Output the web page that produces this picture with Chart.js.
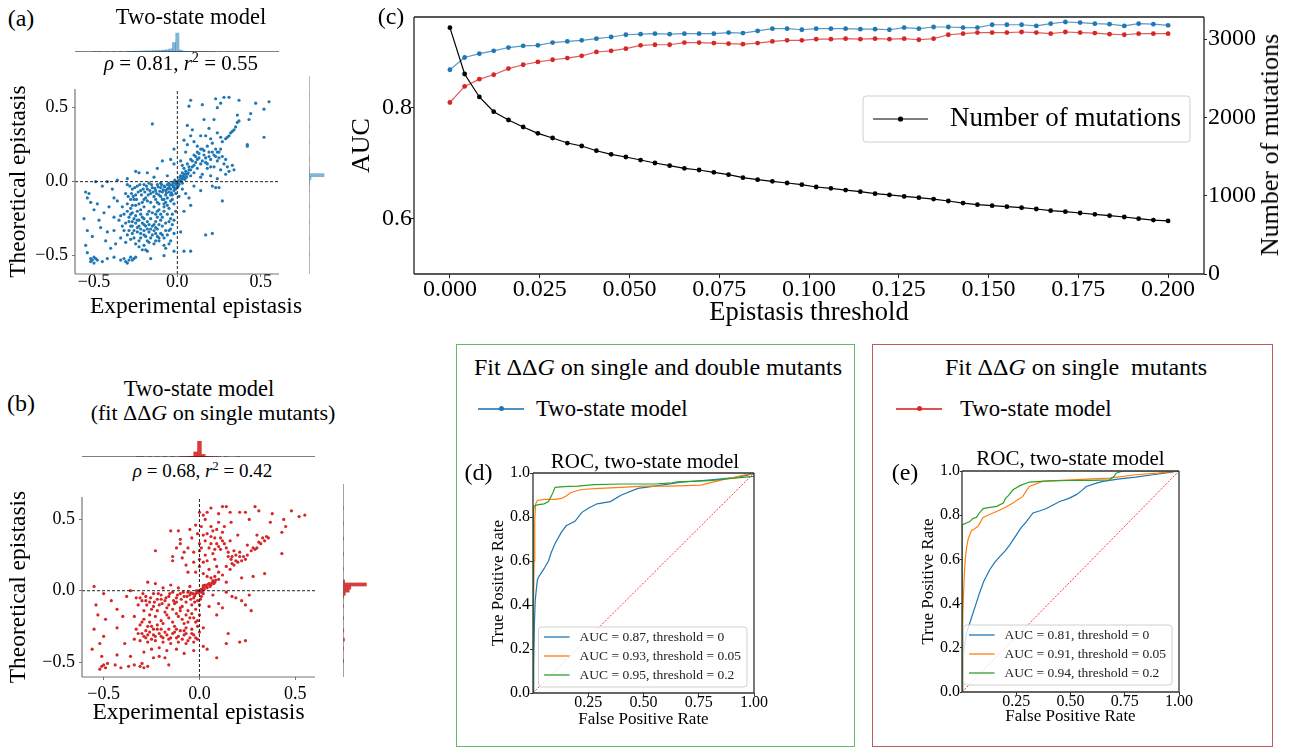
<!DOCTYPE html>
<html>
<head>
<meta charset="utf-8">
<title>Two-state model epistasis</title>
<script src="https://cdn.jsdelivr.net/npm/chart.js@4.4.1/dist/chart.umd.min.js"></script>
<style>
  body { margin: 0; background: #fff; }
  #fig { position: relative; width: 1298px; height: 749px; overflow: hidden; font-family: "Liberation Serif", "Times New Roman", serif; color: #000; }
  #fig canvas { position: absolute; }
  .t { position: absolute; white-space: nowrap; line-height: 1; transform: translate(-50%, -50%); }
  .tl { position: absolute; white-space: nowrap; line-height: 1; transform: translate(0, -50%); }
  .rot { transform: translate(-50%, -50%) rotate(-90deg); }
  .box { position: absolute; box-sizing: border-box; }
  .sample { position: absolute; height: 1.5px; }
  .dot { position: absolute; width: 5px; height: 5px; border-radius: 50%; }
  sup { font-size: 0.68em; line-height: 0; vertical-align: 0.5em; }
</style>
</head>
<body>
<div id="fig">
  <div class="box" style="left:456px;top:344px;width:399px;height:403px;border:1.5px solid #64bb64;"></div>
  <div class="box" style="left:872px;top:344px;width:401px;height:403px;border:1.5px solid #c05a5a;"></div>

  <canvas id="histTopA" width="204" height="24" style="left:75px;top:28px"></canvas>
  <canvas id="scatterA" width="290" height="244" style="left:0px;top:76px"></canvas>
  <canvas id="histRightA" width="26" height="198" style="left:309px;top:76px"></canvas>
  <canvas id="histTopB" width="233" height="24" style="left:82px;top:433px"></canvas>
  <canvas id="scatterB" width="330" height="243" style="left:0px;top:484px"></canvas>
  <canvas id="histRightB" width="30" height="193" style="left:343px;top:484px"></canvas>
  <canvas id="chartC" width="948" height="335" style="left:350px;top:0px"></canvas>
  <canvas id="rocD" width="370" height="298" style="left:460px;top:440px"></canvas>
  <canvas id="rocE" width="363" height="299" style="left:889px;top:438px"></canvas>

  <div class="t" style="left:21px;top:18px;font-size:24px">(a)</div>
  <div class="t" style="left:191px;top:16.5px;font-size:22.5px">Two-state model</div>
  <div class="t" style="left:181px;top:63px;font-size:21px"><i>ρ</i> = 0.81, <i>r</i><sup>2</sup> = 0.55</div>
  <div class="t" style="left:196px;top:305.5px;font-size:23.5px">Experimental epistasis</div>

  <div class="t" style="left:21px;top:402.5px;font-size:24px">(b)</div>
  <div class="t" style="left:199px;top:389px;font-size:22.5px">Two-state model</div>
  <div class="t" style="left:213px;top:413px;font-size:22px">(fit ΔΔ<i>G</i> on single mutants)</div>
  <div class="t" style="left:202.5px;top:470px;font-size:19px"><i>ρ</i> = 0.68, <i>r</i><sup>2</sup> = 0.42</div>

  <div class="t" style="left:391px;top:16px;font-size:24px">(c)</div>
  <div class="t rot" style="left:1270px;top:145px;font-size:26px">Number of mutations</div>

  <div class="t" style="left:658px;top:366.5px;font-size:24px">Fit ΔΔ<i>G</i> on single and double mutants</div>
  <div class="sample" style="left:478px;top:408px;width:46px;background:rgba(31,119,180,0.8)"></div>
  <div class="dot" style="left:498.5px;top:406.3px;background:#1f77b4"></div>
  <div class="tl" style="left:536px;top:409px;font-size:22.7px">Two-state model</div>
  <div class="t" style="left:478.5px;top:472px;font-size:24px">(d)</div>

  <div class="t" style="left:1076px;top:366.5px;font-size:24px">Fit ΔΔ<i>G</i> on single&nbsp; mutants</div>
  <div class="sample" style="left:896px;top:408px;width:46px;background:rgba(214,39,40,0.8)"></div>
  <div class="dot" style="left:916.5px;top:406.3px;background:#d62728"></div>
  <div class="tl" style="left:960px;top:409px;font-size:22.7px">Two-state model</div>
  <div class="t" style="left:905px;top:472px;font-size:24px">(e)</div>
</div>

<script>
// panel (c): epistasis threshold sweep
const thresholds = [0, 0.0041, 0.0082, 0.0122, 0.0163, 0.0204, 0.0245, 0.0286, 0.0327, 0.0367,
  0.0408, 0.0449, 0.0490, 0.0531, 0.0571, 0.0612, 0.0653, 0.0694, 0.0735, 0.0776,
  0.0816, 0.0857, 0.0898, 0.0939, 0.0980, 0.1020, 0.1061, 0.1102, 0.1143, 0.1184,
  0.1224, 0.1265, 0.1306, 0.1347, 0.1388, 0.1429, 0.1469, 0.1510, 0.1551, 0.1592,
  0.1633, 0.1673, 0.1714, 0.1755, 0.1796, 0.1837, 0.1878, 0.1918, 0.1959, 0.2000];
const aucSingleDouble = [0.868, 0.890, 0.897, 0.902, 0.908, 0.911, 0.912, 0.917, 0.919, 0.921,
  0.924, 0.927, 0.931, 0.932, 0.933, 0.932, 0.933, 0.933, 0.933, 0.935,
  0.934, 0.938, 0.942, 0.942, 0.940, 0.942, 0.942, 0.942, 0.941, 0.941,
  0.940, 0.944, 0.942, 0.945, 0.945, 0.944, 0.944, 0.949, 0.949, 0.949,
  0.947, 0.951, 0.954, 0.953, 0.951, 0.950, 0.947, 0.951, 0.950, 0.948];
const aucSingle = [0.809, 0.838, 0.851, 0.859, 0.870, 0.877, 0.882, 0.886, 0.889, 0.893,
  0.900, 0.902, 0.906, 0.912, 0.913, 0.913, 0.917, 0.917, 0.916, 0.915,
  0.914, 0.916, 0.919, 0.921, 0.921, 0.923, 0.923, 0.924, 0.923, 0.924,
  0.923, 0.924, 0.922, 0.924, 0.931, 0.933, 0.935, 0.935, 0.935, 0.936,
  0.935, 0.933, 0.936, 0.935, 0.934, 0.932, 0.931, 0.933, 0.933, 0.933];
const mutationCount = [3145, 2553, 2260, 2072, 1966, 1877, 1796, 1736, 1672, 1634,
  1574, 1528, 1494, 1455, 1417, 1383, 1349, 1328, 1298, 1268,
  1230, 1204, 1183, 1162, 1140, 1111, 1094, 1072, 1051, 1026,
  1009, 991, 974, 957, 932, 906, 885, 872, 860, 847,
  830, 809, 796, 779, 762, 745, 728, 706, 689, 677];
const thresholdTicks = [0, 0.025, 0.05, 0.075, 0.1, 0.125, 0.15, 0.175, 0.2];
const aucTicks = [0.6, 0.8];
const countTicks = [0, 1000, 2000, 3000];

// panels (d), (e): ROC curves as [FPR, TPR]
const rocLabelsD = ['AUC = 0.87, threshold = 0', 'AUC = 0.93, threshold = 0.05', 'AUC = 0.95, threshold = 0.2'];
const rocLabelsE = ['AUC = 0.81, threshold = 0', 'AUC = 0.91, threshold = 0.05', 'AUC = 0.94, threshold = 0.2'];
const rocD0 = [[0, 0], [0.003, 0.12], [0.006, 0.3], [0.01, 0.42], [0.015, 0.47], [0.02, 0.515], [0.03, 0.535],
  [0.05, 0.565], [0.07, 0.6], [0.083, 0.64], [0.1, 0.68], [0.128, 0.73], [0.15, 0.76], [0.19, 0.78],
  [0.22, 0.82], [0.25, 0.84], [0.29, 0.86], [0.35, 0.87], [0.4, 0.9], [0.475, 0.93], [0.55, 0.94],
  [0.67, 0.958], [0.82, 0.97], [0.92, 0.98], [0.97, 0.99], [1, 1]];
const rocD005 = [[0, 0], [0.002, 0.4], [0.005, 0.6], [0.008, 0.79], [0.012, 0.86], [0.02, 0.875], [0.05, 0.88],
  [0.1, 0.88], [0.13, 0.885], [0.15, 0.895], [0.17, 0.91], [0.19, 0.917], [0.22, 0.925], [0.3, 0.93],
  [0.4, 0.935], [0.5, 0.94], [0.62, 0.94], [0.76, 0.945], [0.8, 0.955], [0.86, 0.97], [0.93, 0.985], [1, 1]];
const rocD02 = [[0, 0], [0.002, 0.83], [0.005, 0.85], [0.02, 0.855], [0.05, 0.86], [0.07, 0.87], [0.08, 0.89],
  [0.09, 0.91], [0.1, 0.935], [0.14, 0.938], [0.2, 0.94], [0.28, 0.947], [0.4, 0.95], [0.55, 0.95],
  [0.63, 0.955], [0.65, 0.96], [0.8, 0.965], [0.9, 0.975], [0.95, 0.98], [1, 0.985], [1, 1]];
const rocE0 = [[0, 0], [0.003, 0.07], [0.005, 0.14], [0.01, 0.2], [0.02, 0.265], [0.035, 0.31], [0.05, 0.355],
  [0.065, 0.4], [0.08, 0.446], [0.1, 0.5], [0.127, 0.552], [0.15, 0.585], [0.174, 0.613], [0.2, 0.64],
  [0.22, 0.666], [0.25, 0.71], [0.27, 0.74], [0.296, 0.77], [0.327, 0.81], [0.36, 0.82], [0.389, 0.83],
  [0.45, 0.862], [0.49, 0.875], [0.527, 0.893], [0.55, 0.91], [0.573, 0.93], [0.62, 0.945], [0.65, 0.953],
  [0.727, 0.964], [0.8, 0.972], [0.88, 0.983], [0.95, 0.993], [1, 1]];
const rocE005 = [[0, 0], [0.003, 0.3], [0.005, 0.386], [0.01, 0.52], [0.015, 0.6], [0.022, 0.66], [0.028, 0.69],
  [0.043, 0.73], [0.06, 0.74], [0.074, 0.75], [0.097, 0.79], [0.12, 0.8], [0.143, 0.81], [0.19, 0.83],
  [0.235, 0.855], [0.28, 0.885], [0.31, 0.93], [0.37, 0.953], [0.5, 0.96], [0.68, 0.968], [0.8, 0.983],
  [0.9, 0.99], [1, 1]];
const rocE02 = [[0, 0], [0.001, 0.756], [0.02, 0.765], [0.035, 0.77], [0.05, 0.785], [0.066, 0.79], [0.08, 0.81],
  [0.097, 0.83], [0.13, 0.835], [0.16, 0.84], [0.19, 0.855], [0.2, 0.875], [0.215, 0.89], [0.235, 0.915],
  [0.27, 0.935], [0.31, 0.95], [0.4, 0.955], [0.5, 0.957], [0.6, 0.958], [0.68, 0.96], [0.7, 0.975],
  [0.71, 0.99], [0.74, 1], [1, 1]];
const rocXTicks = [0.25, 0.5, 0.75, 1];
const rocYTicks = [0, 0.2, 0.4, 0.6, 0.8, 1];

// panels (a), (b): [experimental, theoretical] epistasis
const epiTicks = [-0.5, 0, 0.5];
const scatterA = [
  [-0.01, -0.01], [0, 0], [0.01, 0.01], [-0.02, -0.03], [-0.03, -0.02], [-0.04, -0.05], [-0.05, -0.04], [-0.06, -0.02],
  [-0.02, -0.06], [-0.07, -0.06], [-0.08, -0.03], [-0.09, -0.07], [-0.1, -0.04], [-0.11, -0.09], [-0.12, -0.02], [-0.13, -0.06],
  [-0.04, -0.09], [-0.06, -0.11], [-0.03, -0.12], [-0.01, -0.08], [0, -0.04], [0.01, -0.02], [0.02, 0], [0.03, 0.02],
  [0.02, 0.04], [0.04, 0.03], [0.05, 0.05], [-0.015, 0.01], [-0.05, -0.01], [-0.07, -0.09], [-0.09, -0.12], [-0.14, -0.1],
  [-0.15, -0.04], [-0.16, -0.08], [-0.12, -0.14], [-0.08, -0.15], [-0.02, -0.15], [0.01, -0.1], [-0.17, -0.01], [-0.18, -0.05],
  [-0.2, -0.02], [-0.22, -0.06], [-0.19, -0.11], [-0.24, -0.03], [-0.25, -0.09], [-0.27, -0.05], [-0.28, -0.12], [-0.3, -0.02],
  [-0.31, -0.08], [-0.21, -0.14], [-0.1, -0.01], [-0.035, -0.075], [-0.055, -0.045], [-0.025, -0.035], [0.005, -0.015], [-0.065, -0.075],
  [-0.005, -0.02], [-0.015, -0.045], [-0.025, -0.005], [-0.045, -0.025], [-0.06, -0.05], [-0.075, -0.035], [-0.085, -0.055], [-0.095, -0.02],
  [-0.105, -0.065], [-0.115, -0.035], [-0.125, -0.08], [-0.135, -0.045], [-0.145, -0.07], [-0.155, -0.02], [-0.165, -0.06], [-0.175, -0.09],
  [-0.185, -0.03], [-0.195, -0.07], [-0.205, -0.05], [-0.215, -0.09], [-0.225, -0.02], [-0.235, -0.07], [-0.245, -0.12], [-0.255, -0.04],
  [-0.265, -0.1], [-0.275, -0.08], [-0.285, -0.03], [-0.295, -0.1], [-0.05, -0.07], [-0.03, -0.09], [-0.01, -0.05], [0.005, -0.03],
  [0.015, 0.005], [0.025, 0.015], [0.035, 0.035], [0.045, 0.015], [0.055, 0.03], [0.065, 0.06], [0.015, 0.03], [0.03, -0.01],
  [-0.1, -0.1], [-0.08, -0.12], [-0.13, -0.12], [-0.16, -0.14], [-0.04, -0.13], [-0.06, -0.16], [-0.11, -0.15], [-0.2, -0.12],
  [-0.23, -0.15], [-0.27, -0.16],
  [0.03, 0.06], [0.04, 0.09], [0.06, 0.05], [0.06, 0.12], [0.07, 0.08], [0.08, 0.15], [0.09, 0.1], [0.1, 0.18],
  [0.1, 0.06], [0.11, 0.13], [0.12, 0.2], [0.12, 0.09], [0.13, 0.16], [0.14, 0.12], [0.15, 0.22], [0.15, 0.05],
  [0.16, 0.18], [0.17, 0.13], [0.18, 0.24], [0.18, 0.09], [0.19, 0.2], [0.2, 0.15], [0.21, 0.26], [0.22, 0.18],
  [0.22, 0.1], [0.23, 0.22], [0.24, 0.14], [0.25, 0.2], [0.26, 0.08], [0.27, 0.17], [0.28, 0.12], [0.3, 0.1],
  [0.33, 0.11], [0.05, 0.2], [0.06, 0.25], [0.02, 0.14], [0.03, 0.11], [0.08, 0.04], [0.14, 0.03], [0.2, 0.04],
  [0.24, 0.02], [0.29, 0.05], [0.07, 0.1], [0.09, 0.14], [0.11, 0.17], [0.13, 0.19], [0.14, 0.22], [0.16, 0.21],
  [0.17, 0.16], [0.19, 0.17], [0.21, 0.2], [0.23, 0.17], [0.24, 0.2], [0.26, 0.22], [0.18, 0.12], [0.2, 0.1],
  [0.12, 0.15], [0.1, 0.11], [0.08, 0.08], [0.15, 0.14], [0.25, 0.16], [0.29, 0.15], [0.34, 0.08], [0.31, 0.07],
  [0.05, 0.07], [0.04, 0.05],
  [0.06, 0.38], [0.09, 0.35], [0.08, 0.31], [0.14, 0.31], [0.17, 0.31], [0.19, 0.36], [0.2, 0.29], [0.22, 0.42],
  [0.16, 0.42], [0.24, 0.33], [0.26, 0.3], [0.27, 0.27], [0.29, 0.29], [0.3, 0.3], [0.31, 0.31], [0.32, 0.33],
  [0.33, 0.34], [0.34, 0.35], [0.35, 0.37], [0.36, 0.4], [0.37, 0.41], [0.36, 0.45], [0.07, 0.51], [0.08, 0.55],
  [0.15, 0.52], [0.23, 0.56], [0.24, 0.5], [0.26, 0.53], [0.28, 0.57], [0.31, 0.57], [0.37, 0.55], [0.43, 0.42],
  [0.44, 0.46], [0.47, 0.53], [0.52, 0.49], [0.55, 0.54], [0.42, 0.25], [0.42, 0.24], [0.52, 0.3], [-0.15, 0.39],
  [0.04, 0.28], [0.1, 0.27], [0.12, 0.24],
  [-0.3, -0.15], [-0.28, -0.18], [-0.25, -0.16], [-0.22, -0.19], [-0.2, -0.17], [-0.17, -0.2], [-0.14, -0.17], [-0.11, -0.19],
  [-0.08, -0.2], [-0.05, -0.18], [-0.03, -0.22], [-0.32, -0.22], [-0.29, -0.24], [-0.27, -0.27], [-0.25, -0.23], [-0.23, -0.26],
  [-0.21, -0.24], [-0.2, -0.29], [-0.18, -0.27], [-0.16, -0.25], [-0.15, -0.3], [-0.13, -0.27], [-0.12, -0.32], [-0.1, -0.26],
  [-0.09, -0.3], [-0.07, -0.28], [-0.05, -0.33], [-0.03, -0.29], [-0.28, -0.3], [-0.26, -0.33], [-0.24, -0.31], [-0.22, -0.35],
  [-0.2, -0.33], [-0.19, -0.37], [-0.17, -0.34], [-0.15, -0.36], [-0.14, -0.33], [-0.12, -0.37], [-0.1, -0.35], [-0.08, -0.38],
  [-0.06, -0.36], [-0.04, -0.4], [-0.02, -0.35], [-0.3, -0.36], [-0.33, -0.3], [-0.35, -0.26], [-0.34, -0.38], [-0.31, -0.41],
  [-0.28, -0.39], [-0.25, -0.42], [-0.23, -0.4], [-0.2, -0.43], [-0.17, -0.41], [-0.14, -0.42], [-0.11, -0.4], [-0.08, -0.43],
  [-0.05, -0.42], [-0.26, -0.12], [-0.33, -0.17], [-0.36, -0.13], [-0.18, -0.13], [-0.07, -0.14], [-0.04, -0.25], [-0.01, -0.2],
  [-0.27, -0.21], [-0.13, -0.22], [-0.09, -0.24], [-0.38, -0.33], [-0.37, -0.42],
  [-0.29, -0.27], [-0.27, -0.3], [-0.25, -0.28], [-0.23, -0.3], [-0.21, -0.28], [-0.19, -0.3], [-0.17, -0.29], [-0.16, -0.32],
  [-0.14, -0.29], [-0.13, -0.31], [-0.11, -0.29], [-0.24, -0.34], [-0.22, -0.32], [-0.18, -0.32], [-0.2, -0.36], [-0.16, -0.38],
  [-0.13, -0.35], [-0.27, -0.35], [-0.29, -0.33], [-0.26, -0.38], [-0.22, -0.38], [-0.18, -0.4], [-0.3, -0.2], [-0.28, -0.22],
  [-0.24, -0.2], [-0.22, -0.22], [-0.18, -0.22], [-0.15, -0.21], [-0.12, -0.24], [-0.1, -0.22], [-0.06, -0.22], [-0.02, -0.26],
  [-0.04, -0.32], [-0.07, -0.33], [-0.09, -0.36], [-0.11, -0.38], [-0.13, -0.4], [-0.24, -0.26], [-0.26, -0.25], [-0.31, -0.28],
  [-0.34, -0.23], [-0.32, -0.33], [-0.2, -0.25], [-0.12, -0.2], [-0.08, -0.17], [-0.05, -0.27],
  [-0.55, -0.07], [-0.54, -0.11], [-0.53, -0.08], [-0.52, -0.14], [-0.56, -0.25], [-0.5, -0.19], [-0.47, -0.26], [-0.46, -0.31],
  [-0.54, -0.33], [-0.51, -0.37], [-0.55, -0.43], [-0.54, -0.48], [-0.43, -0.4], [-0.42, -0.34], [-0.44, -0.21], [-0.41, -0.17],
  [-0.38, -0.11], [-0.45, -0.03], [-0.49, 0], [-0.42, 0], [-0.4, -0.45], [-0.38, -0.24], [-0.48, -0.15], [-0.39, -0.05],
  [-0.36, 0.01],
  [-0.52, -0.52], [-0.51, -0.53], [-0.5, -0.51], [-0.52, -0.54], [-0.49, -0.52], [-0.5, -0.55], [-0.48, -0.53], [-0.42, -0.52],
  [-0.45, -0.54], [-0.38, -0.51], [-0.34, -0.53], [-0.31, -0.54], [-0.29, -0.53], [-0.27, -0.53], [-0.3, -0.55], [-0.26, -0.52],
  [-0.25, -0.51], [-0.28, -0.51], [-0.32, -0.52], [-0.21, -0.46], [-0.19, -0.46], [-0.23, -0.44], [-0.16, -0.52], [-0.08, -0.5],
  [-0.02, -0.47], [-0.07, -0.45], [-0.18, -0.47],
  [0.21, -0.03], [0.23, -0.04], [0.25, -0.04], [0.14, -0.06], [0.07, -0.11], [0.08, -0.16], [0.27, -0.13], [0.17, -0.36],
  [0.21, -0.35], [0.04, -0.47], [0.08, -0.47], [0.02, -0.34], [0.04, -0.2], [0.1, -0.03], [0.03, -0.05], [0.05, -0.08],
  [-0.02, 0.22], [-0.02, 0.12], [-0.04, 0.15], [-0.09, 0.14], [-0.12, 0.09], [-0.18, 0.06], [-0.25, 0.07], [-0.23, 0.06],
  [-0.06, 0.04], [-0.14, 0.03], [-0.3, 0.02]
];
const scatterB = [
  [0, 0], [0.01, 0.01], [0.02, 0.02], [0.03, 0.04], [0.05, 0.05], [0.07, 0.07], [0.06, 0.04], [0.04, 0.02],
  [0.08, 0.06], [0.1, 0.08], [-0.01, -0.01], [-0.02, -0.02], [-0.035, -0.02], [-0.05, -0.03], [-0.03, -0.05], [-0.06, -0.01],
  [-0.08, -0.04], [-0.1, -0.02], [-0.12, -0.05], [-0.14, -0.01], [-0.16, -0.04], [-0.18, -0.07], [-0.2, -0.03], [-0.22, -0.06],
  [-0.24, -0.02], [-0.26, -0.08], [-0.28, -0.04], [-0.3, -0.07], [-0.32, -0.1], [-0.07, -0.08], [-0.04, -0.1], [-0.01, -0.07],
  [0.01, -0.04], [-0.09, -0.11], [-0.13, -0.09], [-0.17, -0.12], [-0.21, -0.1], [-0.25, -0.13], [-0.29, -0.14], [-0.11, 0.02],
  [-0.15, 0.04], [-0.19, 0.02], [-0.23, 0.05], [-0.27, 0.06], [-0.05, 0.03], [0.02, -0.02], [-0.02, -0.13], [0, -0.1],
  [-0.06, -0.14], [0.005, 0.005], [-0.015, 0], [0.015, -0.005],
  [-0.005, -0.015], [-0.025, -0.035], [-0.045, -0.015], [-0.065, -0.04], [-0.085, -0.01], [-0.095, -0.06], [-0.115, -0.03], [-0.135, -0.07],
  [-0.155, -0.02], [-0.175, -0.05], [-0.195, -0.09], [-0.215, -0.02], [-0.235, -0.08], [-0.255, -0.05], [-0.275, -0.1], [-0.295, -0.02],
  [-0.31, -0.05], [-0.045, -0.06], [-0.025, -0.08], [0.005, -0.06], [0.025, 0.01], [0.035, 0.03], [0.045, 0.045], [0.055, 0.03],
  [0.065, 0.055], [0.075, 0.05], [0.085, 0.075], [0.02, 0.035], [0.01, -0.01], [-0.12, -0.08], [-0.16, -0.1], [-0.2, -0.06],
  [-0.24, -0.11], [-0.28, -0.07], [-0.1, -0.12], [-0.14, -0.13], [-0.18, -0.15], [-0.22, -0.14], [-0.26, -0.17],
  [-0.33, -0.27], [-0.3, -0.3], [-0.28, -0.33], [-0.26, -0.29], [-0.24, -0.31], [-0.22, -0.27], [-0.2, -0.32], [-0.18, -0.29],
  [-0.16, -0.34], [-0.14, -0.3], [-0.12, -0.33], [-0.1, -0.28], [-0.08, -0.31], [-0.06, -0.35], [-0.04, -0.3], [-0.02, -0.33],
  [0, -0.29], [-0.31, -0.35], [-0.27, -0.36], [-0.23, -0.35], [-0.19, -0.36], [-0.15, -0.37], [-0.11, -0.36], [-0.07, -0.37],
  [-0.03, -0.36], [-0.29, -0.2], [-0.26, -0.22], [-0.23, -0.18], [-0.2, -0.21], [-0.17, -0.17], [-0.14, -0.22], [-0.11, -0.18],
  [-0.08, -0.23], [-0.05, -0.19], [-0.02, -0.22], [0, -0.17], [-0.1, -0.14], [-0.04, -0.16], [-0.34, -0.18], [-0.31, -0.24],
  [-0.25, -0.25], [-0.13, -0.25], [-0.07, -0.26], [-0.01, -0.25], [-0.21, -0.4], [-0.17, -0.42], [-0.12, -0.41], [-0.08, -0.44],
  [-0.03, -0.42], [-0.25, -0.41], [-0.29, -0.43], [0.02, -0.39], [0.02, -0.26],
  [-0.32, -0.3], [-0.29, -0.32], [-0.27, -0.31], [-0.25, -0.34], [-0.23, -0.32], [-0.21, -0.3], [-0.19, -0.33], [-0.17, -0.31],
  [-0.15, -0.33], [-0.13, -0.29], [-0.11, -0.32], [-0.09, -0.34], [-0.07, -0.3], [-0.05, -0.33], [-0.03, -0.31], [-0.01, -0.34],
  [-0.28, -0.28], [-0.24, -0.27], [-0.2, -0.27], [-0.16, -0.27], [-0.12, -0.27], [-0.08, -0.28], [-0.04, -0.27], [-0.09, -0.2],
  [-0.06, -0.22], [-0.03, -0.19], [-0.01, -0.21], [-0.07, -0.17], [-0.12, -0.16], [-0.16, -0.19], [-0.19, -0.23], [-0.22, -0.24],
  [-0.27, -0.25], [-0.3, -0.22],
  [0.12, 0.59], [0.14, 0.59], [0.16, 0.55], [0.21, 0.55], [0.24, 0.55], [0.29, 0.59], [0.31, 0.56], [0.06, 0.58],
  [0.1, 0.54], [0.04, 0.55], [0, 0.55], [0.02, 0.53], [0.38, 0.54], [0.48, 0.56], [0.52, 0.52], [0.55, 0.53],
  [0.44, 0.5], [0.45, 0.45], [0.43, 0.41], [0.43, 0.26], [0.34, 0.12], [0.37, 0.48], [0.26, 0.5], [0.165, 0.48],
  [0.1, 0.48], [0.06, 0.45], [-0.02, 0.46], [-0.05, 0.43], [-0.15, 0.42], [-0.11, 0.42], [-0.23, 0.28], [-0.1, 0.36],
  [-0.1, 0.33], [-0.14, 0.24], [-0.14, 0.21], [-0.09, 0.23], [-0.06, 0.3], [-0.04, 0.37], [-0.03, 0.27], [-0.03, 0.2],
  [-0.07, 0.18], [-0.06, 0.13], [-0.02, 0.13], [0.02, 0.39], [0.03, 0.35], [0.05, 0.3], [0.03, 0.25], [0.04, 0.21],
  [0.06, 0.38], [0.08, 0.37], [0.09, 0.33], [0.07, 0.26], [0.08, 0.22], [0.1, 0.13], [0.14, 0.3], [0.15, 0.24],
  [0.165, 0.22], [0.17, 0.24], [0.19, 0.25], [0.21, 0.24], [0.23, 0.24], [0.18, 0.18], [0.16, 0.15], [0.22, 0.09],
  [0.28, 0.1], [0.12, 0.41], [0.2, 0.39], [0.25, 0.32], [0.27, 0.28], [0.29, 0.29], [0.3, 0.3], [0.32, 0.33],
  [0.34, 0.35], [0.33, 0.37], [0.3, 0.39], [0.18, 0.28], [0.12, 0.35], [0, 0.33], [0, 0.28], [0, 0.22],
  [0, 0.17], [0.01, 0.45], [0.05, 0.15], [0.09, 0.17], [0.12, 0.11], [0.14, 0.06], [0.2, 0.2], [0.11, 0.29],
  [0.13, 0.45], [0.07, 0.42], [0.01, 0.3], [0.02, 0.2], [0.04, 0.4], [0.06, 0.33], [0.08, 0.29], [0.1, 0.31],
  [0.11, 0.37], [0.13, 0.33], [0.15, 0.27], [0.16, 0.35], [0.19, 0.21], [0.22, 0.21], [0.24, 0.22], [0.25, 0.25],
  [0.21, 0.27], [0.17, 0.19], [0.14, 0.17], [0.31, 0.34], [0.28, 0.3], [0.35, 0.38], [0.36, 0.37], [0.02, 0.12],
  [0.04, 0.1], [0.06, 0.09], [0.08, 0.1], [-0.01, 0.4], [-0.08, 0.27], [-0.12, 0.3], [0.03, 0.5], [0.09, 0.43],
  [0.14, -0.01], [0.19, -0.05], [0.22, -0.07], [0.24, -0.1], [0.27, -0.14], [0.26, -0.03], [0.1, -0.09], [0.05, -0.11],
  [0.09, -0.17], [0.15, -0.3], [0.14, -0.37], [0.21, -0.36], [0.24, -0.35], [0.09, -0.47], [0.04, -0.41], [0.17, -0.04],
  [0.07, -0.03], [0.12, -0.12],
  [-0.54, -0.1], [-0.53, -0.17], [-0.55, -0.27], [-0.56, -0.41], [-0.52, -0.37], [-0.5, -0.32], [-0.55, 0.03], [-0.5, -0.02],
  [-0.49, -0.2], [-0.46, -0.07], [-0.43, -0.13], [-0.43, -0.26], [-0.39, -0.37], [-0.43, -0.45], [-0.51, -0.53], [-0.5, -0.52],
  [-0.48, -0.51], [-0.51, -0.46], [-0.44, -0.52], [-0.41, -0.54], [-0.37, -0.53], [-0.34, -0.52], [-0.31, -0.53], [-0.29, -0.54],
  [-0.27, -0.53], [-0.3, -0.51], [-0.24, -0.47], [-0.21, -0.46], [-0.18, -0.47], [-0.16, -0.52], [-0.36, -0.46], [-0.34, -0.34],
  [-0.4, -0.18], [-0.52, -0.55], [-0.49, -0.54], [-0.38, -0.04], [-0.36, 0], [-0.33, -0.05]
];

// marginal histograms: [bin centre, count]
const histTopA = [[-0.5, 2], [-0.48, 2], [-0.46, 2], [-0.42, 3], [-0.38, 4], [-0.34, 6], [-0.3, 8], [-0.28, 10],
  [-0.26, 12], [-0.24, 12], [-0.22, 14], [-0.2, 16], [-0.18, 18], [-0.16, 18], [-0.14, 20], [-0.12, 22],
  [-0.1, 24], [-0.08, 30], [-0.06, 36], [-0.04, 50], [-0.02, 150], [0, 300], [0.02, 30], [0.04, 12],
  [0.06, 10], [0.08, 8], [0.1, 7], [0.12, 6], [0.14, 5], [0.16, 5], [0.18, 4], [0.2, 4], [0.22, 3], [0.26, 2], [0.3, 2]];
const histRightA = [[-0.5, 2], [-0.4, 2], [-0.3, 3], [-0.2, 3], [-0.1, 6], [-0.06, 8], [-0.04, 14], [-0.02, 40],
  [0, 300], [0.02, 12], [0.04, 6], [0.1, 3], [0.2, 2], [0.3, 2], [0.5, 2]];
const histTopB = [[-0.32, 2], [-0.3, 2], [-0.26, 2], [-0.22, 2], [-0.18, 3], [-0.14, 3], [-0.1, 4], [-0.08, 5],
  [-0.06, 8], [-0.04, 12], [-0.02, 80], [0, 250], [0.02, 40], [0.04, 8], [0.06, 5], [0.08, 3], [0.1, 2], [0.14, 2], [0.2, 2]];
const histRightB = [[-0.5, 8], [-0.42, 6], [-0.36, 18], [-0.3, 10], [-0.22, 6], [-0.14, 6], [-0.08, 10], [-0.06, 30],
  [-0.04, 80], [-0.02, 100], [0, 300], [0.02, 20], [0.1, 4], [0.2, 4], [0.3, 4], [0.4, 3], [0.5, 3]];

const FONT = '"Liberation Serif", "Times New Roman", serif';
Chart.defaults.font.family = FONT;
Chart.defaults.color = '#000';
Chart.defaults.animation = false;
Chart.defaults.responsive = false;
Chart.defaults.plugins.legend.display = false;
Chart.defaults.plugins.tooltip.enabled = false;

const fixedTicks = (values) => (scale) => { scale.ticks = values.map((v) => ({ value: v })); };
const fixWidth = (w) => (scale) => { scale.width = w; };
const fixHeight = (h) => (scale) => { scale.height = h; };
const signedLabel = (digits) => (v) => (v < 0 ? '\u2212' : '') + Math.abs(v).toFixed(digits);
const toPoints = (xs, ys) => xs.map((x, i) => ({ x, y: ys[i] }));
const pairPoints = (pairs) => pairs.map(([x, y]) => ({ x, y }));

// draws the axes box (or only some sides of it)
const framePlugin = {
  id: 'frame',
  afterDraw(chart, args, opts) {
    if (!opts.sides) return;
    const { left, right, top, bottom } = chart.chartArea;
    const ctx = chart.ctx;
    ctx.save();
    ctx.strokeStyle = opts.color || '#000';
    ctx.lineWidth = opts.width || 1;
    ctx.beginPath();
    if (opts.sides.includes('left')) { ctx.moveTo(left, top); ctx.lineTo(left, bottom); }
    if (opts.sides.includes('right')) { ctx.moveTo(right, top); ctx.lineTo(right, bottom); }
    if (opts.sides.includes('top')) { ctx.moveTo(left, top); ctx.lineTo(right, top); }
    if (opts.sides.includes('bottom')) { ctx.moveTo(left, bottom); ctx.lineTo(right, bottom); }
    ctx.stroke();
    ctx.restore();
  },
};

// matplotlib-like legend box inside the axes
const boxLegendPlugin = {
  id: 'boxLegend',
  afterDraw(chart, args, o) {
    if (!o.datasets) return;
    const ctx = chart.ctx;
    const ca = chart.chartArea;
    const items = o.datasets.map((i) => chart.data.datasets[i]);
    ctx.save();
    ctx.font = `${o.fontSize}px ${FONT}`;
    const tw = Math.max(...items.map((d) => ctx.measureText(d.label).width));
    const w = o.textX + tw + o.padRight;
    const x0 = ca.right - o.right - w;
    const y0 = o.top !== undefined ? ca.top + o.top : ca.bottom - o.bottom - o.height;
    ctx.beginPath();
    ctx.roundRect(x0, y0, w, o.height, 3);
    ctx.fillStyle = 'rgba(255,255,255,0.8)';
    ctx.fill();
    ctx.strokeStyle = '#d0d0d0';
    ctx.lineWidth = 1;
    ctx.stroke();
    items.forEach((d, k) => {
      const y = y0 + o.firstRow + k * o.rowGap;
      ctx.strokeStyle = d.borderColor;
      ctx.lineWidth = o.lineWidth;
      ctx.beginPath();
      ctx.moveTo(x0 + o.sample[0], y);
      ctx.lineTo(x0 + o.sample[1], y);
      ctx.stroke();
      if (o.dot) {
        ctx.fillStyle = d.pointBackgroundColor || d.borderColor;
        ctx.beginPath();
        ctx.arc(x0 + (o.sample[0] + o.sample[1]) / 2, y, o.dot, 0, Math.PI * 2);
        ctx.fill();
      }
      ctx.fillStyle = o.textColor || '#000';
      ctx.textBaseline = 'middle';
      ctx.textAlign = 'left';
      ctx.fillText(d.label, x0 + o.textX, y);
    });
    ctx.restore();
  },
};

Chart.register(framePlugin, boxLegendPlugin);

function histChart(id, bins, color, range, countMax, horizontal, edge) {
  const data = bins.map(([c, n]) => (horizontal ? { x: n, y: c } : { x: c, y: n }));
  const posScale = { type: 'linear', min: range[0], max: range[1], display: false, offset: false };
  const countScale = { type: 'linear', min: 0, max: countMax, display: false };
  return new Chart(document.getElementById(id), {
    type: 'bar',
    data: { datasets: [{ data, backgroundColor: color, borderWidth: 0, barPercentage: 1, categoryPercentage: 1 }] },
    options: {
      indexAxis: horizontal ? 'y' : 'x',
      layout: { padding: 0 },
      scales: horizontal ? { y: posScale, x: countScale } : { x: posScale, y: countScale },
      plugins: { frame: edge },
    },
  });
}

function scatterChart(id, pts, color, xr, yr, cfg) {
  const refLine = { showLine: true, pointRadius: 0, borderColor: '#222', borderWidth: 1, borderDash: [3, 2] };
  const axisFont = { size: 23.5, lineHeight: 1 };
  return new Chart(document.getElementById(id), {
    type: 'scatter',
    data: {
      datasets: [
        { ...refLine, data: [{ x: xr[0], y: 0 }, { x: xr[1], y: 0 }] },
        { ...refLine, data: [{ x: 0, y: yr[0] }, { x: 0, y: yr[1] }] },
        { data: pairPoints(pts), pointRadius: 1.6, pointBackgroundColor: color, pointBorderWidth: 0 },
      ],
    },
    options: {
      layout: { padding: { right: cfg.padRight } },
      scales: {
        x: {
          min: xr[0], max: xr[1],
          afterBuildTicks: fixedTicks(epiTicks),
          afterFit: fixHeight(cfg.xHeight),
          ticks: { callback: signedLabel(1), font: { size: 18, lineHeight: 1 }, padding: cfg.xTickPad, maxRotation: 0, minRotation: 0, autoSkip: false },
          grid: { drawOnChartArea: false, tickLength: 3, color: '#777' },
          border: { display: false },
          title: cfg.xTitle
            ? { display: true, text: cfg.xTitle, font: axisFont, padding: { top: 0, bottom: cfg.xTitlePad } }
            : { display: false },
        },
        y: {
          min: yr[0], max: yr[1],
          afterBuildTicks: fixedTicks(epiTicks),
          afterFit: fixWidth(cfg.yWidth),
          ticks: { callback: signedLabel(1), font: { size: 18, lineHeight: 1 }, padding: 4 },
          grid: { drawOnChartArea: false, tickLength: 3, color: '#777' },
          border: { display: false },
          title: { display: true, text: 'Theoretical epistasis', font: axisFont, padding: { top: 6.75, bottom: 0 } },
        },
      },
      plugins: { frame: { sides: ['left', 'bottom'], color: '#777', width: 1.2 } },
    },
  });
}

function rocChart(id, curves, labels, cfg) {
  const colors = ['#1f77b4', '#ff7f0e', '#2ca02c'];
  const datasets = curves.map((c, i) => ({
    label: labels[i], data: pairPoints(c), showLine: true, pointRadius: 0,
    borderColor: colors[i], borderWidth: 1.2, order: 2 - i,
  }));
  datasets.push({
    label: 'chance', data: [{ x: 0, y: 0 }, { x: 1, y: 1 }], showLine: true, pointRadius: 0,
    borderColor: '#ff2020', borderWidth: 0.9, borderDash: [2, 1.5], order: 3,
  });
  const tickFont = { size: 16, lineHeight: 1 };
  const titleFont = { size: 17, lineHeight: 1 };
  return new Chart(document.getElementById(id), {
    type: 'scatter',
    data: { datasets },
    options: {
      scales: {
        x: {
          min: 0, max: 1,
          afterBuildTicks: fixedTicks(rocXTicks),
          afterFit: fixHeight(45),
          ticks: { callback: (v) => v.toFixed(2), font: tickFont, padding: cfg.xTickPad, maxRotation: 0, minRotation: 0, autoSkip: false },
          grid: { drawOnChartArea: false, tickLength: 3, color: '#333' },
          border: { display: false },
          title: { display: true, text: 'False Positive Rate', font: titleFont, padding: { top: 0, bottom: cfg.xTitlePad } },
        },
        y: {
          min: 0, max: 1,
          afterBuildTicks: fixedTicks(rocYTicks),
          afterFit: fixWidth(73),
          ticks: { callback: (v) => v.toFixed(1), font: tickFont, padding: 0 },
          grid: { drawOnChartArea: false, tickLength: cfg.yTickLen, color: '#333' },
          border: { display: false },
          title: { display: true, text: 'True Positive Rate', font: titleFont, padding: { top: cfg.yTitlePad, bottom: 0 } },
        },
        yR: {
          position: 'right', display: true, min: 0, max: 1,
          ticks: { display: false }, grid: { display: false }, border: { display: false },
          afterFit: fixWidth(cfg.rightWidth),
        },
      },
      plugins: {
        title: {
          display: true, text: 'ROC, two-state model', color: '#000',
          font: { size: 21, lineHeight: 1, weight: 'normal' },
          padding: { top: cfg.titleTop, bottom: cfg.titleBottom },
        },
        frame: { sides: ['left', 'right', 'top', 'bottom'], color: '#333', width: 1.3 },
        boxLegend: {
          datasets: [0, 1, 2], fontSize: 13.5, textColor: '#222', right: 7, bottom: cfg.legendBottom, height: 60,
          firstRow: 10, rowGap: 19, sample: [5.5, 31], textX: 41, padRight: 6, lineWidth: 1.3,
        },
      },
    },
  });
}

// (a) and (b)
const xRangeA = [-0.614, 0.61];
const yRangeA = [-0.624, 0.626];
const xRangeB = [-0.613, 0.603];
const yRangeB = [-0.605, 0.657];

histChart('histTopA', histTopA, 'rgba(31,119,180,0.55)', xRangeA, 380, false, { sides: ['bottom'], color: '#000', width: 1.2 });
histChart('histRightA', histRightA, 'rgba(31,119,180,0.55)', yRangeA, 520, true, { sides: ['left'], color: '#888', width: 1.2 });
scatterChart('scatterA', scatterA, '#1f77b4', xRangeA, yRangeA,
  { padRight: 11, xHeight: 46, xTickPad: -3.5, yWidth: 75, xTitle: null });

histChart('histTopB', histTopB, 'rgba(214,39,40,0.9)', xRangeB, 382, false, { sides: ['bottom'], color: '#000', width: 1.2 });
histChart('histRightB', histRightB, 'rgba(214,39,40,0.9)', yRangeB, 385, true, { sides: ['left'], color: '#666', width: 1.2 });
scatterChart('scatterB', scatterB, '#d62728', xRangeB, yRangeB,
  { padRight: 15, xHeight: 50, xTickPad: 5.7, yWidth: 82, xTitle: 'Experimental epistasis', xTitlePad: 2.5 });

// (c)
new Chart(document.getElementById('chartC'), {
  type: 'scatter',
  data: {
    datasets: [
      {
        label: 'Number of mutations', yAxisID: 'y2', data: toPoints(thresholds, mutationCount),
        showLine: true, borderColor: '#000', borderWidth: 1.2, pointRadius: 2.4,
        pointBackgroundColor: '#000', pointBorderWidth: 0,
      },
      {
        label: 'Two-state model', yAxisID: 'y', data: toPoints(thresholds, aucSingleDouble),
        showLine: true, borderColor: 'rgba(31,119,180,0.75)', borderWidth: 1.2, pointRadius: 2.4,
        pointBackgroundColor: '#1f77b4', pointBorderWidth: 0,
      },
      {
        label: 'Two-state model', yAxisID: 'y', data: toPoints(thresholds, aucSingle),
        showLine: true, borderColor: 'rgba(214,39,40,0.75)', borderWidth: 1.2, pointRadius: 2.4,
        pointBackgroundColor: '#d62728', pointBorderWidth: 0,
      },
    ],
  },
  options: {
    layout: { padding: { top: 17 } },
    scales: {
      x: {
        min: -0.01, max: 0.21,
        afterBuildTicks: fixedTicks(thresholdTicks),
        afterFit: fixHeight(61),
        ticks: { callback: (v) => v.toFixed(3), font: { size: 24, lineHeight: 1 }, padding: 0, maxRotation: 0, minRotation: 0, autoSkip: false },
        grid: { drawOnChartArea: false, tickLength: 4, color: '#222' },
        border: { display: false },
        title: { display: true, text: 'Epistasis threshold', font: { size: 26.5, lineHeight: 1 }, padding: { top: 0, bottom: 8.5 } },
      },
      y: {
        position: 'left', min: 0.5, max: 0.963,
        afterBuildTicks: fixedTicks(aucTicks),
        afterFit: fixWidth(64),
        ticks: { callback: (v) => v.toFixed(1), font: { size: 24, lineHeight: 1 }, padding: -1 },
        grid: { drawOnChartArea: false, tickLength: 3, color: '#222' },
        border: { display: false },
        title: { display: true, text: 'AUC', font: { size: 26, lineHeight: 1 }, padding: { top: -1.3, bottom: 0 } },
      },
      y2: {
        position: 'right', min: 0, max: 3281,
        afterBuildTicks: fixedTicks(countTicks),
        afterFit: fixWidth(94),
        ticks: { callback: (v) => String(v), font: { size: 24, lineHeight: 1 }, padding: 1 },
        grid: { drawOnChartArea: false, tickLength: 3, color: '#222' },
        border: { display: false },
      },
    },
    plugins: {
      frame: { sides: ['left', 'right', 'top', 'bottom'], color: '#222', width: 1.3 },
      boxLegend: {
        datasets: [0], fontSize: 27, right: 14, top: 79, height: 46,
        firstRow: 23, rowGap: 0, sample: [10, 65], textX: 87, padRight: 9, lineWidth: 1.2, dot: 2.6,
      },
    },
  },
});

// (d) and (e)
rocChart('rocD', [rocD0, rocD005, rocD02], rocLabelsD,
  { xTickPad: -1, xTitlePad: 9.5, yTitlePad: 30.5, yTickLen: 3, rightWidth: 76, titleTop: 12, titleBottom: 0, legendBottom: 6 });
rocChart('rocE', [rocE0, rocE005, rocE02], rocLabelsE,
  { xTickPad: -1.5, xTitlePad: 11.5, yTitlePad: 31.5, yTickLen: 2, rightWidth: 73, titleTop: 11.25, titleBottom: 0.75, legendBottom: 7 });
</script>
</body>
</html>
